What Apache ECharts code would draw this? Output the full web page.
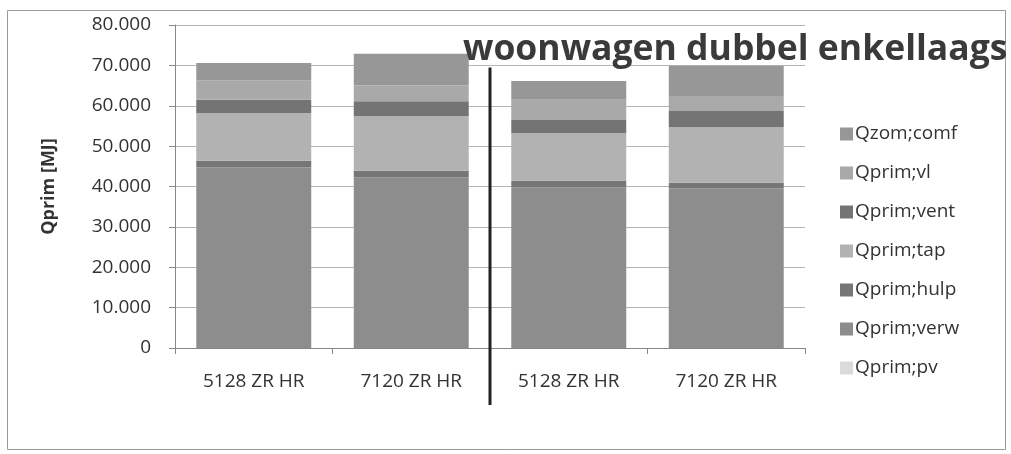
<!DOCTYPE html>
<html>
<head>
<meta charset="utf-8">
<script src="https://cdn.jsdelivr.net/npm/echarts@6/dist/echarts.min.js"></script>
<style>
    html, body { margin: 0; padding: 0; background: #fff; }
    #chart1 { width: 1011px; height: 454px; }
</style>
</head>
<body>
<div id="chart1"></div>
<script>
var categories = ['5128 ZR HR', '7120 ZR HR', '5128 ZR HR', '7120 ZR HR'];

// waarden in MJ, van onder naar boven gestapeld
var pv   = [0, 0, 0, 0];
var verw = [44700, 42300, 39800, 39500];
var hulp = [1700, 1600, 1600, 1400];
var tap  = [11800, 13500, 11800, 13800];
var vent = [3300, 3700, 3300, 4000];
var vl   = [4800, 3900, 5000, 3500];
var comf = [4300, 7900, 4600, 7700];

var yTicks = [0, 10000, 20000, 30000, 40000, 50000, 60000, 70000, 80000];

(function () {
    var chart1 = echarts.init(document.getElementById('chart1'));
    var font = '"Open Sans", sans-serif';

    function fmt(v) {
        return String(v).replace(/\B(?=(\d{3})+(?!\d))/g, '.');
    }

    function bar(name, data, color) {
        return {
            name: name,
            type: 'bar',
            stack: 'q',
            data: data,
            barCategoryGap: '27%',
            itemStyle: { color: color }
        };
    }

    var option1 = {
        backgroundColor: '#fff',
        animation: false,

        title: {
            text: 'woonwagen dubbel enkellaags',
            left: 458,
            top: 27,
            textStyle: {
                fontFamily: font,
                fontSize: 35.5,
                fontWeight: 'bold',
                color: '#3a3a3a'
            }
        },

        grid: {
            left: 175,
            right: 206,
            top: 25,
            bottom: 106
        },

        legend: {
            orient: 'vertical',
            left: 835,
            top: 118,
            itemWidth: 13,
            itemHeight: 13,
            itemGap: 17,
            icon: 'rect',
            textStyle: {
                fontFamily: font,
                fontSize: 19,
                lineHeight: 22,
                color: '#333',
                padding: [0, 0, 0, -3]
            },
            data: ['Qzom;comf', 'Qprim;vl', 'Qprim;vent', 'Qprim;tap', 'Qprim;hulp', 'Qprim;verw', 'Qprim;pv']
        },

        xAxis: {
            type: 'category',
            data: categories,
            axisLine: { lineStyle: { color: '#888', width: 1 } },
            axisTick: { show: true, length: 6, lineStyle: { color: '#888' } },
            axisLabel: {
                margin: 24,
                fontFamily: font,
                fontSize: 19,
                color: '#333'
            }
        },

        yAxis: {
            type: 'value',
            min: yTicks[0],
            max: yTicks[yTicks.length - 1],
            interval: 10000,
            name: 'Qprim [MJ]',
            nameLocation: 'middle',
            nameGap: 117,
            nameTextStyle: {
                fontFamily: font,
                fontSize: 18,
                fontWeight: 'bold',
                color: '#333'
            },
            axisLine: { show: true, lineStyle: { color: '#888' } },
            axisTick: { show: true, inside: false, length: 6, lineStyle: { color: '#888' } },
            axisLabel: {
                margin: 24,
                fontFamily: font,
                fontSize: 19,
                color: '#333',
                formatter: fmt
            },
            splitLine: { lineStyle: { color: '#b5b5b5', width: 1 } }
        },

        series: [
            bar('Qprim;pv', pv, '#dadada'),
            bar('Qprim;verw', verw, '#8d8d8d'),
            bar('Qprim;hulp', hulp, '#767676'),
            bar('Qprim;tap', tap, '#b2b2b2'),
            bar('Qprim;vent', vent, '#747474'),
            bar('Qprim;vl', vl, '#a9a9a9'),
            bar('Qzom;comf', comf, '#979797')
        ]
    };

    chart1.setOption(option1);

    // scheidingslijn tussen de twee groepen + kader
    var xa = chart1.convertToPixel({ xAxisIndex: 0 }, 1);
    var xb = chart1.convertToPixel({ xAxisIndex: 0 }, 2);
    var yTop = chart1.convertToPixel({ yAxisIndex: 0 }, 69500);
    var yBottom = chart1.convertToPixel({ yAxisIndex: 0 }, 0);
    var xMid = Math.round((xa + xb) / 2);

    chart1.setOption({
        graphic: [
            {
                type: 'rect',
                shape: { x: 7.5, y: 10.5, width: 998, height: 439 },
                style: { fill: null, stroke: '#9a9a9a', lineWidth: 1 },
                silent: true
            },
            {
                type: 'line',
                shape: { x1: xMid, y1: yTop, x2: xMid, y2: yBottom + 57 },
                style: { stroke: '#222', lineWidth: 3 },
                z: 100,
                silent: true
            }
        ]
    });
})();
</script>
</body>
</html>
